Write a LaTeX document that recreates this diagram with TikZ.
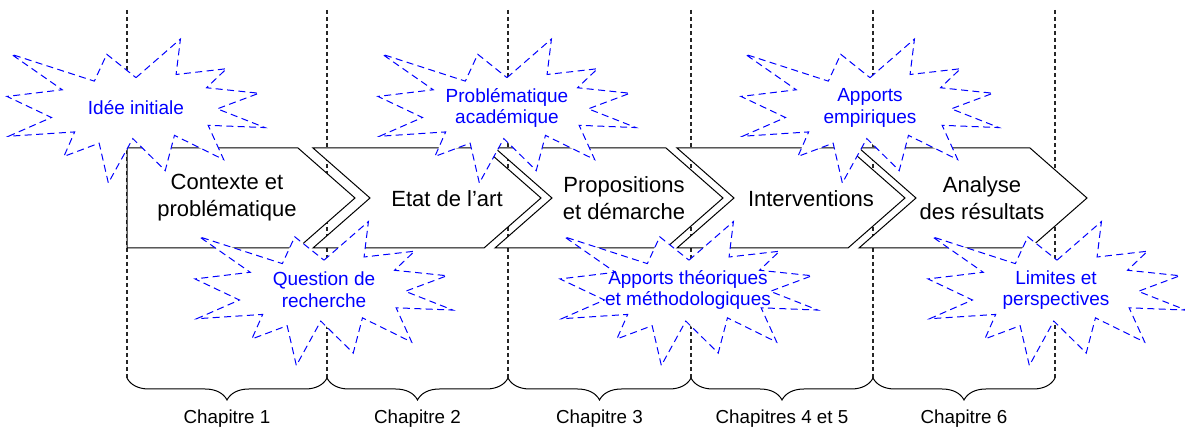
\documentclass[tikz,border=0pt]{standalone}
\usepackage{fontspec}
\setmainfont{Liberation Sans}
\usetikzlibrary{decorations.pathreplacing}

\tikzset{
  chapline/.style={black!85, line width=0.6pt, dash pattern=on 2pt off 1.5pt},
  chevbox/.style={draw=black, fill=white, line width=0.5pt, line join=miter},
  burstline/.style={draw=blue, fill=white, line width=0.5pt, dash pattern=on 3.5pt off 2.2pt},
  bursttext/.style={text=blue, align=center, font=\fontsize{9.5}{10.8}\selectfont, inner sep=0pt},
  chevtext/.style={align=center, font=\fontsize{11}{13.5}\selectfont, inner sep=0pt},
  chaplabel/.style={font=\fontsize{9.4}{11}\selectfont, inner sep=0pt},
  chapbrace/.style={decorate, decoration={brace, mirror, amplitude=11pt}, line width=0.5pt},
  % irregular explosion outline, centred on the pic origin
  burst/.pic={
    \path[burstline, xscale=258/216, yscale=144/216]
      (0,-50) -- (37.22,-108) -- (33.55,-54.75) -- (75.80,-63.43) -- (59.02,-34.85)
      -- (102.97,-26.63) -- (68.07,-3.25) -- (108,24.90) -- (60.37,21.42)
      -- (73.45,72.95) -- (32.20,36.57) -- (24.47,89.37) -- (-2.68,41.35)
      -- (-23.15,108) -- (-30.85,48.27) -- (-60.38,68.17) -- (-51.33,31.37)
      -- (-106.65,37.87) -- (-70.78,9.75) -- (-108,-21.85) -- (-61.73,-31.83)
      -- (-104.30,-85.05) -- (-34.88,-44.80) -- (-24.48,-85.05) -- cycle;
  }
}

\begin{document}
\begin{tikzpicture}[x=0.5pt, y=-0.5pt]
\useasboundingbox (0,0) rectangle (1185,427);

% chapter separators
\foreach \vx [count=\i from 0] in {127,327,508,691,873,1055} {
  \coordinate (v\i) at (\vx,378);
  \draw[chapline] (\vx,10) -- (v\i);
}

% process chevrons
\draw[chevbox] (127,148) -- (298,148) -- (355,198) -- (298,248) -- (127,248) -- cycle;
\foreach \lx in {313,495,677,859} {
  \draw[chevbox] (\lx,148) -- ++(171,0) -- ++(57,50) -- ++(-57,50) -- ++(-171,0) -- ++(57,-50) -- cycle;
}

% explosions
\pic at (136,111) {burst};
\pic at (507,111) {burst};
\pic at (870,111) {burst};
\pic at (324,293.5) {burst};
\pic at (689,293.5) {burst};
\pic at (1057,293.5) {burst};

% chevron texts
\node[chevtext] (contexte) at (227,198) {Contexte et\\problématique};
\node[chevtext] (etat) at (447,199) {Etat de l’art};
\node[chevtext] (propositions) at (624,198) {Propositions\\et démarche};
\node[chevtext] (interventions) at (811,199) {Interventions};
\node[chevtext] (analyse) at (982,198) {Analyse\\des résultats};

% explosion texts
\node[bursttext] (idee) at (136,108) {Idée initiale};
\node[bursttext] (probaca) at (507,108) {Problématique\\académique};
\node[bursttext] (empiriques) at (870,108) {Apports\\empiriques};
\node[bursttext] (question) at (324,290) {Question de\\recherche};
\node[bursttext] (theoriques) at (688,290) {Apports théoriques\\et méthodologiques};
\node[bursttext] (limites) at (1056,290) {Limites et\\perspectives};

% chapter braces
\foreach \a/\b/\t [count=\i] in {0/1/Chapitre 1, 1/2/Chapitre 2, 2/3/Chapitre 3, 3/4/Chapitres 4 et 5, 4/5/Chapitre 6} {
  \draw[chapbrace] (v\a) -- (v\b) node[chaplabel, midway, yshift=-20.5pt] (ch\i) {\t};
}
\end{tikzpicture}
\end{document}
